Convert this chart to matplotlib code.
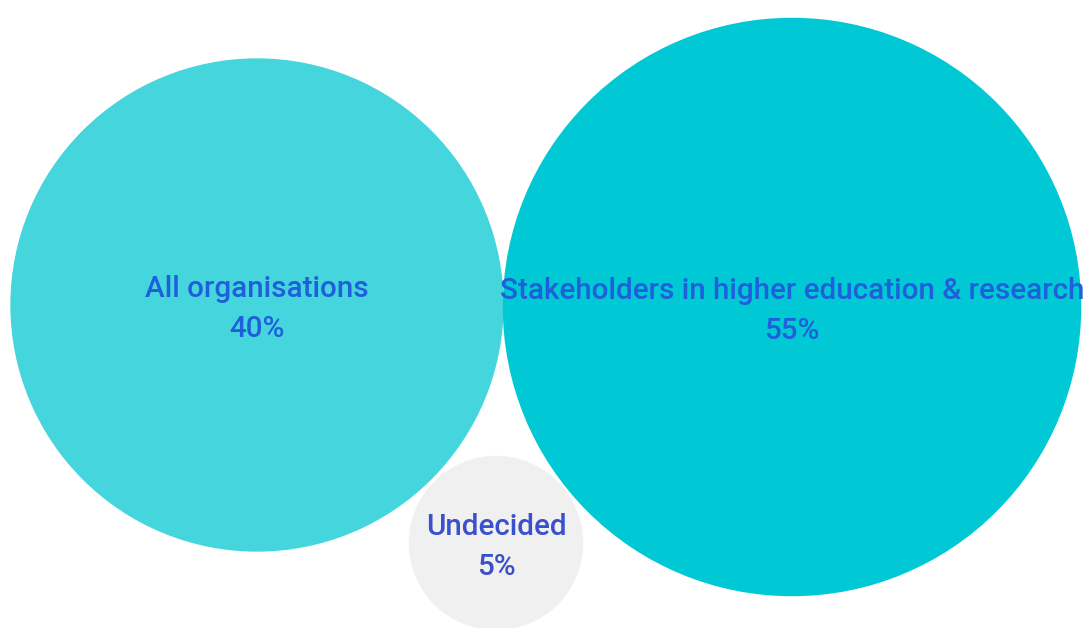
import matplotlib.pyplot as plt
from matplotlib.patches import Circle
import numpy as np

labels = ['All organisations', 'Stakeholders in higher education & research', 'Undecided']
values = [40, 55, 5]
colors = ['#45d5dd', '#00c8d4', '#f0f0f0']
text_colors = ['#1f5fdc', '#1f5fdc', '#3a50cc']

# bubble centres (pixel layout) and radius scale
centres = [(257, 305), (792, 307), (496, 543)]
scale = 39.0

fig = plt.figure(figsize=(10.86, 6.28), dpi=100)
ax = fig.add_axes([0, 0, 1, 1])
ax.set_xlim(0, 1086)
ax.set_ylim(628, 0)
ax.set_aspect('equal')
ax.axis('off')

for lab, v, c, tc, (cx, cy) in zip(labels, values, colors, text_colors, centres):
    r = scale * np.sqrt(v)
    ax.add_patch(Circle((cx, cy), r, facecolor=c, edgecolor='none'))
    ax.text(cx, cy - 16, lab, ha='center', va='center', fontsize=21.3,
            color=tc, family='Roboto', fontweight='medium')
    ax.text(cx, cy + 24, f'{v}%', ha='center', va='center', fontsize=21.3,
            color=tc, family='Roboto', fontweight='medium')

fig.savefig('out.png', dpi=100)
